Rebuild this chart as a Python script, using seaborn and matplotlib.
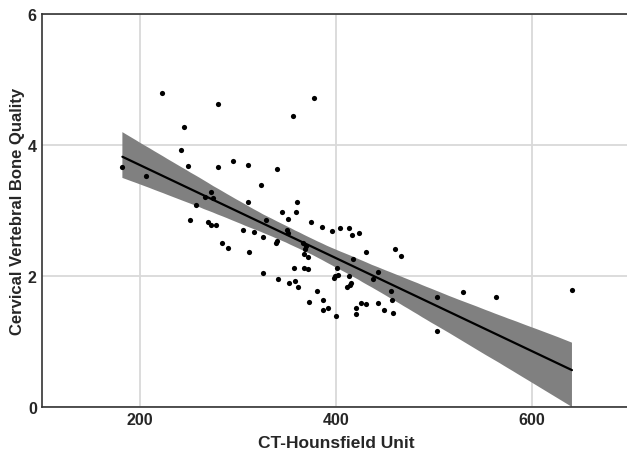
import numpy as np
import pandas as pd
import matplotlib
matplotlib.use("Agg")
import matplotlib.pyplot as plt
import seaborn as sns
from matplotlib.ticker import MultipleLocator

# --- Data ---
hounsfield = [
    223.2, 279.3, 245.2, 241.8, 182.3, 249.0, 279.9, 294.9, 310.9, 339.5,
    206.8, 323.5, 272.4, 266.3, 274.5, 310.5, 257.1, 377.9, 356.8, 360.5,
    345.2, 358.9, 251.3, 269.7, 272.4, 277.6, 351.4, 328.6, 374.5, 385.7,
    304.8, 317.0, 349.7, 351.0, 326.2, 339.8, 338.5, 284.0, 289.8, 311.5,
    366.7, 369.1, 368.7, 367.3, 371.7, 357.5, 367.7, 371.1, 326.2, 341.1,
    352.0, 357.9, 361.9, 380.3, 386.7, 372.4, 386.7, 391.5, 395.9, 404.1,
    412.9, 416.3, 423.1, 430.3, 459.9, 466.3, 417.7, 401.0, 399.0, 397.7,
    402.3, 413.6, 443.2, 438.1, 415.3, 414.0, 411.5, 455.8, 456.8, 503.4,
    529.9, 399.7, 420.4, 420.1, 425.8, 430.9, 442.9, 448.7, 457.9, 503.4,
    563.6, 640.8,
]
bone_quality = [
    4.80, 4.62, 4.28, 3.93, 3.66, 3.68, 3.67, 3.75, 3.69, 3.64,
    3.52, 3.39, 3.29, 3.20, 3.19, 3.13, 3.09, 4.72, 4.44, 3.13,
    2.97, 2.97, 2.86, 2.82, 2.78, 2.78, 2.87, 2.86, 2.82, 2.75,
    2.71, 2.67, 2.71, 2.65, 2.59, 2.54, 2.51, 2.50, 2.43, 2.37,
    2.51, 2.46, 2.41, 2.33, 2.29, 2.13, 2.12, 2.11, 2.04, 1.96,
    1.89, 1.93, 1.83, 1.77, 1.64, 1.60, 1.48, 1.51, 2.68, 2.74,
    2.74, 2.63, 2.66, 2.37, 2.41, 2.31, 2.26, 2.12, 2.00, 1.97,
    2.02, 2.00, 2.06, 1.96, 1.89, 1.87, 1.83, 1.77, 1.64, 1.68,
    1.75, 1.39, 1.51, 1.42, 1.59, 1.58, 1.59, 1.48, 1.43, 1.16,
    1.68, 1.79,
]

df = pd.DataFrame({"hu": hounsfield, "quality": bone_quality})

sns.set_style("white")
plt.rcParams["font.family"] = ["Liberation Sans", "DejaVu Sans"]

fig = plt.figure(figsize=(6.27, 4.52), dpi=100)
ax = fig.add_axes([0.0665, 0.0973, 0.9383, 0.8695])

sns.regplot(data=df, x="hu", y="quality", ax=ax, ci=95, truncate=True,
            n_boot=2000, seed=7,
            scatter_kws={"s": 14, "color": "black", "alpha": 1,
                         "linewidths": 0, "zorder": 3},
            line_kws={"color": "black", "linewidth": 1.6, "zorder": 2})

# solid grey confidence band like the original
for coll in ax.collections:
    if "PolyCollection" in coll.__class__.__name__:
        coll.set_facecolor("#808080")
        coll.set_alpha(1)
        coll.set_edgecolor("none")

ax.set_xlim(100, 700)
ax.set_ylim(0, 6)
ax.xaxis.set_major_locator(MultipleLocator(200))
ax.xaxis.set_minor_locator(MultipleLocator(100))
ax.yaxis.set_major_locator(MultipleLocator(2))
ax.yaxis.set_minor_locator(MultipleLocator(1))
ax.grid(True, which="major", color="#d9d9d9", linewidth=1.3, zorder=0)
ax.set_axisbelow(True)
ax.tick_params(which="both", direction="in", color="#333333", labelsize=11.5)
ax.tick_params(which="major", length=4)
ax.tick_params(which="minor", length=3)
for lbl in ax.get_xticklabels() + ax.get_yticklabels():
    lbl.set_fontweight("bold")

for side in ["top", "left", "bottom"]:
    ax.spines[side].set_color("#333333")
    ax.spines[side].set_linewidth(1.2)
ax.spines["right"].set_visible(False)

ax.set_xlabel("CT-Hounsfield Unit", fontsize=12.5, fontweight="bold", labelpad=6)
ax.set_ylabel("Cervical Vertebral Bone Quality", fontsize=12, fontweight="bold", labelpad=2)

fig.savefig("out.png", dpi=100)
